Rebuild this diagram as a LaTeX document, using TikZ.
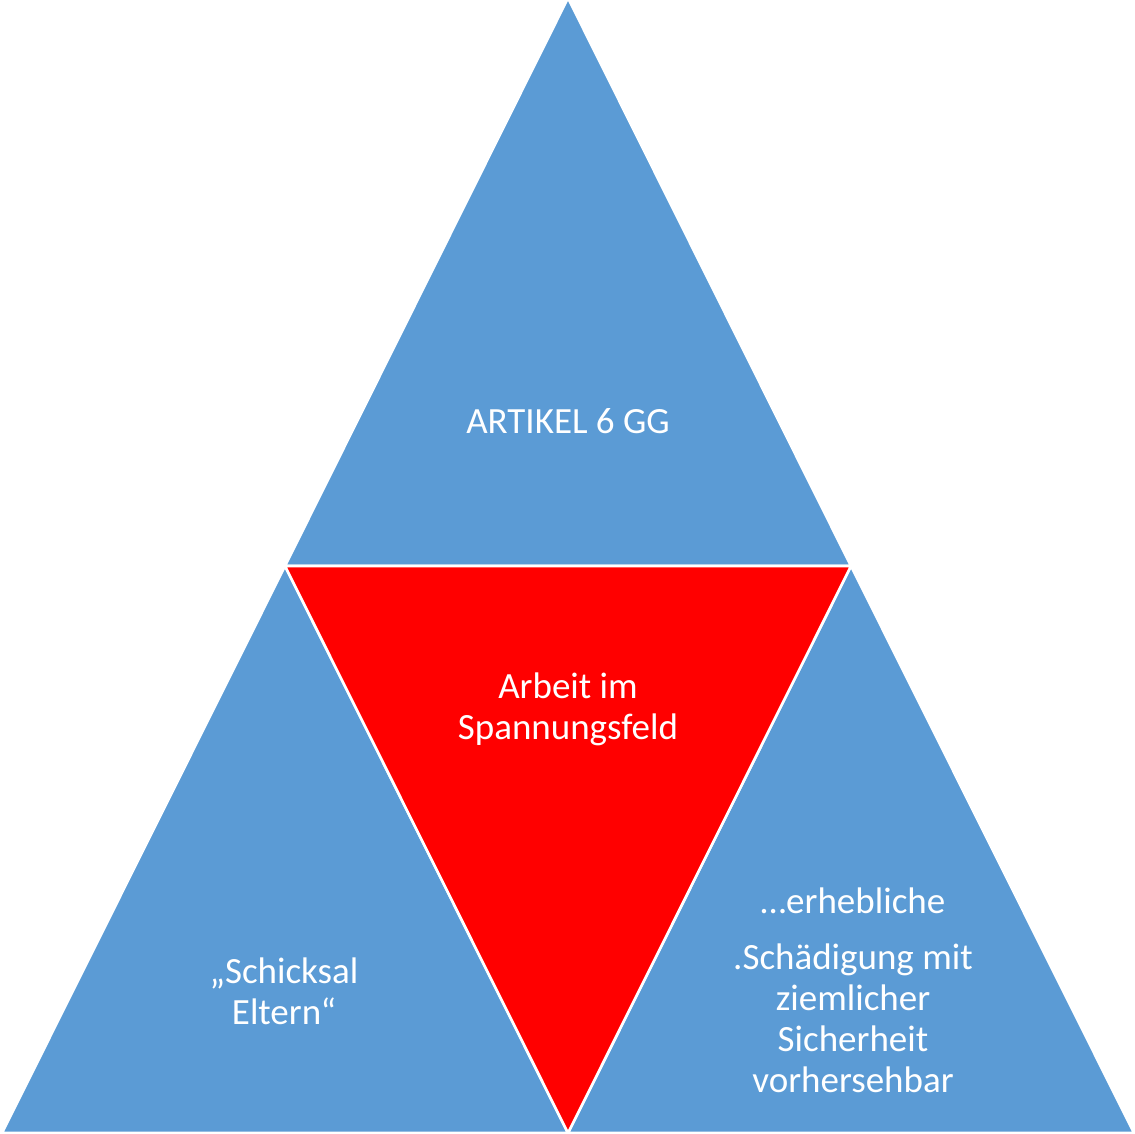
\documentclass[tikz,border=0pt]{standalone}
\usepackage{fontspec}
\setmainfont{Carlito}
\definecolor{triblue}{HTML}{5B9BD5}
\definecolor{trired}{HTML}{FF0000}
\begin{document}
\begin{tikzpicture}[x=1pt,y=-1pt,
  tri/.style={draw=white,line width=2.6pt,line join=miter},
  lbl/.style={text=white,align=center,font=\fontsize{37}{41}\selectfont,inner sep=0pt,anchor=base}]
\useasboundingbox (0,0) rectangle (1135,1134);
\fill[white] (0,0) rectangle (1135,1134);
\coordinate (apex) at (568,-2);
\coordinate (ml) at (285,566);
\coordinate (mr) at (851,566);
\coordinate (bl) at (2,1133);
\coordinate (bm) at (568,1133);
\coordinate (br) at (1134,1133);
\path[tri,fill=triblue] (apex) -- (mr) -- (ml) -- cycle;
\path[tri,fill=triblue] (ml) -- (bm) -- (bl) -- cycle;
\path[tri,fill=triblue] (mr) -- (br) -- (bm) -- cycle;
\path[tri,fill=trired] (ml) -- (mr) -- (bm) -- cycle;
\node[lbl] (top) at (568,433) {ARTIKEL 6 GG};
\node[lbl] (mid) at (568,739) {Arbeit im\\Spannungsfeld};
\node[lbl] (left) at (284,1024) {„Schicksal\\Eltern“};
\node[lbl] (right) at (853,1092) {…erhebliche\\[15pt].Schädigung mit\\ziemlicher\\Sicherheit\\vorhersehbar};
\end{tikzpicture}
\end{document}
